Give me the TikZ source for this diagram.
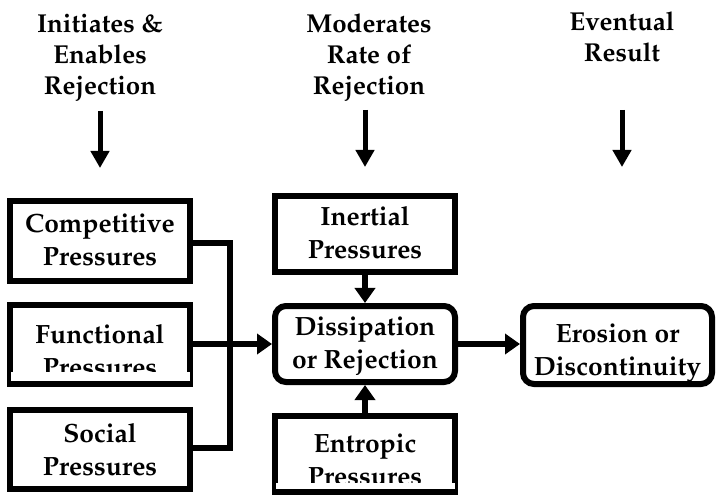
\documentclass[tikz,border=0pt]{standalone}
\usepackage[T1]{fontenc}
\usepackage{mathpazo}
\usetikzlibrary{arrows.meta}
\tikzset{
  box/.style={draw, line width=6bp, minimum width=180bp, minimum height=78bp, inner sep=0pt,
    align=center, text depth=0bp, font=\fontsize{26.5}{33}\selectfont\bfseries},
  rbox/.style={box, rounded corners=11bp},
  hdr/.style={inner sep=0pt, align=center, text height=0bp, text depth=0bp,
    font=\fontsize{26}{31.5}\selectfont\bfseries},
  conn/.style={line width=6bp},
  arr/.style={line width=6bp, -{Triangle[length=15bp,width=20bp]}},
  harr/.style={line width=5bp, -{Triangle[length=17bp,width=18bp]}},
  clipwhite/.style={fill=white},
}
\begin{document}
\begin{tikzpicture}[x=1bp,y=-1bp]
\useasboundingbox (0,0) rectangle (716,497);
% headers (node centre = last baseline)
\node[hdr] (h1) at (100,95) {Initiates \&\\Enables\\Rejection};
\node[hdr] (h2) at (369,95) {Moderates\\Rate of\\Rejection};
\node[hdr] (h3) at (622,62) {Eventual\\Result};
\coordinate (a1s) at (100,111); \coordinate (a1e) at (100,168);
\coordinate (a2s) at (365,110); \coordinate (a2e) at (365,167);
\coordinate (a3s) at (622,110); \coordinate (a3e) at (622,167);
\draw[harr] (a1s) -- (a1e);
\draw[harr] (a2s) -- (a2e);
\draw[harr] (a3s) -- (a3e);
% left boxes
\node[box, minimum height=80bp, text height=48bp] (comp) at (100,241) {Competitive\\Pressures};
\node[box, minimum height=79bp, text height=63bp] (func) at (100,344.5) {Functional\\Pressures};
\path[clipwhite] (10.5,372) rectangle (189.5,381);
\node[box, minimum height=79bp, text height=51bp] (soc) at (100,449.5) {Social\\Pressures};
% middle
\node[box, minimum height=76bp, text height=48bp] (iner) at (365,234) {Inertial\\Pressures};
\node[rbox, minimum height=76bp, text height=48bp] (diss) at (365,344) {Dissipation\\or Rejection};
\node[box, minimum height=76bp, text height=62bp] (entr) at (365,454) {Entropic\\Pressures};
\path[clipwhite] (275.5,483) rectangle (454.5,489);
\node[rbox, minimum width=189bp, minimum height=78bp, text height=60bp] (eros) at (617.5,345) {Erosion or\\Discontinuity};
% connectors
\coordinate (j1) at (230,243.5);
\coordinate (j2) at (230,447.5);
\draw[conn] (comp.east |- j1) -- (j1) -- (j2) -- (soc.east |- j2);
\draw[arr] (func.east |- diss.west) -- (diss.west);
\draw[arr] (iner.south) -- (diss.north);
\draw[arr] (entr.north) -- (diss.south);
\draw[arr] (diss.east) -- (eros.west |- diss.east);
\end{tikzpicture}
\end{document}
